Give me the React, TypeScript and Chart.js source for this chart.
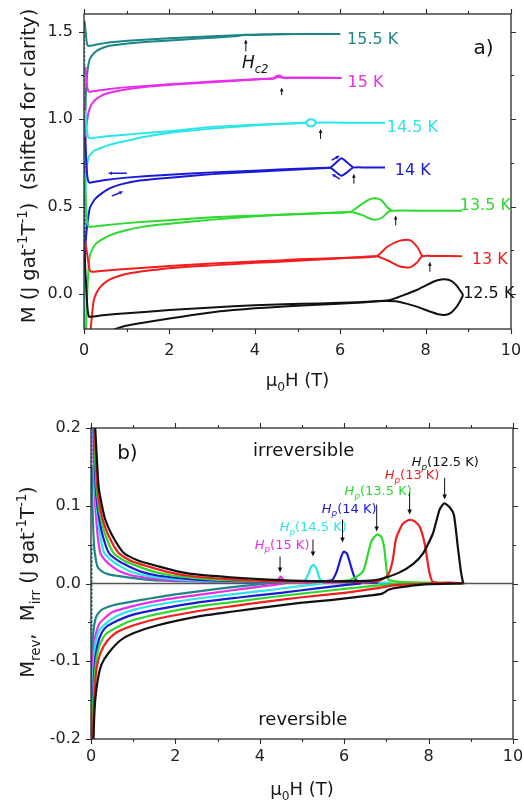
import React, { useEffect, useRef } from "react";
import { Chart, registerables } from "chart.js";
Chart.register(...registerables);

type Pt = [number, number];
type Part = { t: string; s?: "sub" | "sup"; i?: boolean };

const FONT = "DejaVu Sans";

// ---------- axis ticks ----------
const X_MAJOR = [0, 2, 4, 6, 8, 10];
const X_MINOR = [1, 3, 5, 7, 9];
const TOP_Y_MAJOR = [0, 0.5, 1.0, 1.5];
const TOP_Y_MINOR = [0.25, 0.75, 1.25];
const BOT_Y_MAJOR = [-0.2, -0.1, 0, 0.1, 0.2];
const BOT_Y_MINOR = [-0.15, -0.05, 0.05, 0.15];

// ---------- colours ----------
const C125 = "#111111";
const C130 = "#f21d1d";
const C135 = "#2fd82f";
const C140 = "#1a1ad6";
const C145 = "#2ae6e6";
const C150 = "#e82ee8";
const C155 = "#1f8585";

// ---------- panel a) M(H) loops, shifted ----------
const T125_A: Pt[] = [[0.66,-0.21],[0.74,-0.2],[0.9,-0.187],[1.2,-0.172],[1.56,-0.157],[2.0,-0.14],[2.5,-0.122],[3.1,-0.102],[3.5,-0.092],[4.0,-0.082],[4.68,-0.072],[5.1,-0.066],[5.85,-0.057],[6.5,-0.048],[7.0,-0.04],[7.3,-0.042],[7.55,-0.055],[7.79,-0.072],[8.1,-0.1],[8.3,-0.116],[8.45,-0.12],[8.6,-0.106],[8.72,-0.075],[8.8,-0.044],[8.88,-0.006]];
const T125_B: Pt[] = [[8.88,-0.006],[8.8,0.023],[8.72,0.05],[8.6,0.075],[8.45,0.084],[8.3,0.08],[8.18,0.07],[8.0,0.048],[7.79,0.023],[7.5,-0.005],[7.17,-0.034],[6.5,-0.046],[5.5,-0.054],[4.68,-0.058],[4.0,-0.064],[3.0,-0.077],[2.0,-0.092],[1.0,-0.11],[0.5,-0.12],[0.19,-0.129],[0.12,-0.13],[0.09,-0.1],[0.07,-0.04],[0.05,0.05],[0.03,0.14],[0.02,0.21]];
const T130_A: Pt[] = [[0.14,-0.25],[0.16,-0.19],[0.2,-0.09],[0.23,-0.034],[0.3,0.01],[0.39,0.042],[0.55,0.075],[0.78,0.1],[1.1,0.12],[1.56,0.136],[2.2,0.152],[3.1,0.165],[4.0,0.178],[4.68,0.186],[5.5,0.197],[6.2,0.207],[6.85,0.216],[7.1,0.193],[7.4,0.157],[7.63,0.152],[7.8,0.18],[7.92,0.216],[8.2,0.217],[8.85,0.216]];
const T130_B: Pt[] = [[7.92,0.216],[7.8,0.27],[7.63,0.308],[7.4,0.305],[7.1,0.27],[6.85,0.216],[6.0,0.206],[5.0,0.198],[4.68,0.193],[3.5,0.18],[2.5,0.167],[1.5,0.152],[0.8,0.14],[0.4,0.132],[0.19,0.127],[0.15,0.13],[0.12,0.15],[0.09,0.2],[0.06,0.25],[0.03,0.3]];
const T135_A: Pt[] = [[0.04,-0.25],[0.06,-0.12],[0.08,0.02],[0.1,0.12],[0.12,0.19],[0.15,0.23],[0.25,0.28],[0.375,0.305],[0.6,0.335],[0.92,0.36],[1.4,0.385],[1.94,0.4],[3.0,0.425],[4.12,0.445],[5.0,0.456],[5.8,0.464],[6.23,0.468],[6.54,0.449],[6.7,0.43],[6.85,0.425],[7.0,0.44],[7.12,0.468],[7.2,0.476],[8.0,0.476],[8.85,0.476]];
const T135_B: Pt[] = [[7.2,0.478],[7.1,0.496],[6.97,0.535],[6.82,0.547],[6.66,0.538],[6.46,0.506],[6.23,0.468],[5.5,0.462],[4.12,0.449],[3.0,0.438],[2.0,0.422],[1.0,0.405],[0.5,0.393],[0.25,0.386],[0.14,0.383],[0.1,0.39],[0.07,0.43],[0.05,0.5],[0.03,0.6],[0.015,0.68]];
const T140_A: Pt[] = [[0.005,0.75],[0.012,0.3],[0.02,0.2],[0.04,0.3],[0.06,0.36],[0.1,0.44],[0.14,0.493],[0.25,0.54],[0.375,0.568],[0.6,0.603],[0.84,0.625],[1.3,0.648],[1.94,0.663],[3.0,0.685],[4.12,0.7],[5.0,0.712],[5.76,0.721],[5.9,0.697],[6.03,0.676],[6.17,0.697],[6.3,0.722],[6.6,0.723],[7.05,0.723]];
const T140_B: Pt[] = [[6.3,0.723],[6.17,0.75],[6.03,0.776],[5.9,0.75],[5.76,0.722],[5.0,0.716],[4.12,0.706],[3.0,0.695],[2.0,0.682],[1.0,0.665],[0.5,0.652],[0.25,0.642],[0.14,0.636],[0.1,0.645],[0.07,0.69],[0.05,0.78],[0.03,0.9]];
const T145_A: Pt[] = [[0.005,0.95],[0.01,0.2],[0.014,-0.25],[0.02,0.3],[0.04,0.62],[0.06,0.72],[0.1,0.77],[0.14,0.795],[0.25,0.82],[0.375,0.833],[0.6,0.852],[0.92,0.871],[1.4,0.897],[1.94,0.919],[3.0,0.945],[4.12,0.966],[4.8,0.975],[5.18,0.978],[5.25,0.962],[5.31,0.958],[5.38,0.962],[5.44,0.979],[6.0,0.979],[7.05,0.979]];
const T145_B: Pt[] = [[5.44,0.979],[5.38,0.995],[5.31,0.999],[5.25,0.995],[5.18,0.979],[4.12,0.968],[3.0,0.955],[2.0,0.93],[1.2,0.915],[0.6,0.903],[0.3,0.895],[0.14,0.89],[0.1,0.895],[0.07,0.93],[0.05,0.99],[0.03,1.05]];
const T150_A: Pt[] = [[0.005,1.2],[0.012,0.7],[0.02,0.82],[0.04,0.92],[0.06,0.966],[0.1,1.03],[0.15,1.07],[0.22,1.098],[0.35,1.125],[0.53,1.146],[0.9,1.166],[1.47,1.184],[2.2,1.198],[3.0,1.21],[4.12,1.227],[4.45,1.232],[4.5,1.245],[4.6,1.248],[4.65,1.236],[5.0,1.236],[6.03,1.235]];
const T150_B: Pt[] = [[6.03,1.235],[4.65,1.236],[4.55,1.24],[4.45,1.233],[4.12,1.228],[3.0,1.214],[2.0,1.198],[1.2,1.185],[0.6,1.172],[0.3,1.162],[0.14,1.155],[0.1,1.16],[0.07,1.19],[0.05,1.25],[0.03,1.3]];
const T155_A: Pt[] = [[0.005,1.5],[0.01,1.0],[0.015,0.5],[0.025,0.9],[0.04,1.12],[0.06,1.21],[0.09,1.29],[0.14,1.345],[0.25,1.38],[0.375,1.4],[0.6,1.418],[1.08,1.433],[1.6,1.443],[2.2,1.452],[3.0,1.464],[3.6,1.474],[3.75,1.482],[3.9,1.48],[4.5,1.484],[5.2,1.486],[6.0,1.486]];
const T155_B: Pt[] = [[6.0,1.486],[5.0,1.486],[4.12,1.483],[3.0,1.473],[2.0,1.462],[1.2,1.45],[0.68,1.44],[0.35,1.428],[0.2,1.42],[0.1,1.417],[0.07,1.43],[0.05,1.47],[0.03,1.52],[0.015,1.56]];

// ---------- panel b) irreversible / reversible parts ----------
const B125_IRR: Pt[] = [[0.085,0.22],[0.1,0.2],[0.14,0.16],[0.18,0.125],[0.26,0.1],[0.34,0.082],[0.5,0.062],[0.77,0.0395],[1.1,0.03],[1.6,0.022],[2.1,0.015],[2.6,0.011],[3.3,0.008],[4.2,0.005],[5.2,0.003],[6.2,0.003],[6.7,0.004],[6.95,0.007],[7.3,0.014],[7.63,0.025],[7.86,0.038],[8.1,0.064],[8.26,0.095],[8.37,0.103],[8.5,0.098],[8.6,0.088],[8.69,0.048],[8.77,0.014],[8.82,0.0]];
const B130_IRR: Pt[] = [[0.07,0.22],[0.085,0.2],[0.12,0.16],[0.15,0.125],[0.21,0.1],[0.28,0.082],[0.42,0.061],[0.65,0.0395],[0.95,0.029],[1.35,0.022],[1.8,0.015],[2.3,0.01],[3.4,0.005],[4.5,0.003],[6.0,0.002],[6.8,0.003],[6.95,0.007],[7.05,0.012],[7.15,0.03],[7.23,0.058],[7.39,0.077],[7.55,0.082],[7.67,0.08],[7.79,0.073],[7.9,0.053],[7.97,0.03],[8.02,0.014],[8.1,0.002],[8.5,0.001],[8.85,0.0]];
const B135_IRR: Pt[] = [[0.062,0.22],[0.075,0.2],[0.1,0.16],[0.13,0.125],[0.18,0.1],[0.24,0.082],[0.35,0.061],[0.53,0.0395],[0.8,0.029],[1.12,0.022],[1.5,0.015],[1.95,0.01],[2.9,0.005],[4.0,0.003],[5.5,0.002],[6.1,0.004],[6.3,0.009],[6.45,0.016],[6.55,0.035],[6.65,0.055],[6.78,0.063],[6.88,0.06],[6.95,0.045],[7.0,0.02],[7.05,0.005],[7.3,0.002],[8.0,0.001],[8.85,0.0]];
const B140_IRR: Pt[] = [[0.052,0.22],[0.065,0.2],[0.085,0.16],[0.11,0.125],[0.15,0.1],[0.2,0.082],[0.28,0.061],[0.42,0.0395],[0.65,0.029],[0.9,0.022],[1.2,0.015],[1.6,0.01],[2.5,0.005],[3.5,0.003],[5.0,0.002],[5.7,0.004],[5.82,0.015],[5.92,0.033],[5.99,0.041],[6.07,0.038],[6.17,0.02],[6.26,0.006],[6.35,0.002],[6.8,0.001]];
const B145_IRR: Pt[] = [[0.045,0.22],[0.055,0.2],[0.072,0.16],[0.095,0.125],[0.13,0.1],[0.17,0.082],[0.22,0.061],[0.31,0.0395],[0.5,0.029],[0.7,0.022],[0.95,0.015],[1.3,0.01],[2.1,0.005],[3.2,0.003],[4.5,0.002],[5.05,0.003],[5.15,0.012],[5.22,0.022],[5.28,0.024],[5.35,0.018],[5.42,0.006],[5.5,0.002],[6.5,0.001],[7.1,0.001]];
const B150_IRR: Pt[] = [[0.037,0.22],[0.045,0.2],[0.06,0.16],[0.08,0.125],[0.1,0.1],[0.125,0.082],[0.16,0.061],[0.22,0.0395],[0.35,0.029],[0.5,0.022],[0.7,0.015],[1.0,0.01],[1.7,0.005],[2.7,0.003],[3.8,0.002],[4.4,0.002],[4.45,0.006],[4.5,0.009],[4.56,0.004],[4.7,0.001],[6.0,0.001]];
const B155_IRR: Pt[] = [[0.018,0.22],[0.022,0.15],[0.03,0.11],[0.045,0.082],[0.07,0.05],[0.09,0.0395],[0.15,0.022],[0.25,0.016],[0.4,0.012],[0.6,0.01],[1.3,0.005],[2.2,0.003],[3.5,0.002],[5.0,0.001],[6.0,0.001]];

const B125_REV: Pt[] = [[0.05,-0.22],[0.07,-0.18],[0.1,-0.15],[0.16,-0.124],[0.25,-0.104],[0.42,-0.089],[0.7,-0.073],[1.0,-0.064],[1.56,-0.054],[2.58,-0.042],[3.37,-0.036],[4.2,-0.03],[4.95,-0.025],[5.73,-0.021],[6.52,-0.016],[6.9,-0.013],[7.05,-0.008],[7.3,-0.005],[7.9,-0.001],[8.8,0.0]];
const B130_REV: Pt[] = [[0.04,-0.22],[0.06,-0.17],[0.085,-0.14],[0.13,-0.11],[0.22,-0.09],[0.38,-0.074],[0.6,-0.063],[1.05,-0.053],[1.6,-0.045],[2.58,-0.035],[3.37,-0.029],[4.2,-0.023],[4.95,-0.018],[6.0,-0.012],[6.8,-0.006],[7.2,-0.002],[7.6,-0.001],[8.1,0.0]];
const B135_REV: Pt[] = [[0.035,-0.22],[0.05,-0.16],[0.075,-0.13],[0.12,-0.1],[0.2,-0.08],[0.35,-0.065],[0.73,-0.053],[1.0,-0.047],[1.6,-0.039],[2.58,-0.029],[3.5,-0.023],[4.2,-0.018],[5.0,-0.013],[6.0,-0.007],[6.7,-0.003],[7.1,-0.001],[7.6,0.0]];
const B140_REV: Pt[] = [[0.03,-0.22],[0.045,-0.16],[0.07,-0.12],[0.11,-0.092],[0.2,-0.07],[0.32,-0.058],[0.5,-0.051],[1.0,-0.04],[1.6,-0.033],[2.58,-0.024],[3.5,-0.018],[4.5,-0.012],[5.4,-0.006],[6.0,-0.002],[6.4,0.0]];
const B145_REV: Pt[] = [[0.025,-0.21],[0.04,-0.15],[0.06,-0.11],[0.1,-0.08],[0.18,-0.062],[0.34,-0.052],[0.6,-0.042],[1.0,-0.034],[1.6,-0.027],[2.58,-0.019],[3.5,-0.013],[4.3,-0.008],[5.0,-0.003],[5.5,0.0]];
const B150_REV: Pt[] = [[0.022,-0.2],[0.035,-0.14],[0.05,-0.1],[0.08,-0.075],[0.15,-0.058],[0.22,-0.05],[0.5,-0.037],[1.0,-0.029],[1.6,-0.022],[2.5,-0.015],[3.3,-0.009],[4.0,-0.004],[4.6,0.0]];
const B155_REV: Pt[] = [[0.015,0.05],[0.016,-0.22],[0.02,-0.15],[0.03,-0.09],[0.06,-0.06],[0.13,-0.042],[0.25,-0.034],[0.53,-0.028],[1.0,-0.023],[1.32,-0.02],[2.0,-0.014],[3.0,-0.007],[3.8,-0.002],[4.2,0.0]];

// ---------- annotations (data coordinates) ----------
const TOP_T_LABELS = [
  { text: "15.5 K", x: 6.16, y: 1.462, color: C155 },
  { text: "15 K", x: 6.17, y: 1.216, color: C150 },
  { text: "14.5 K", x: 7.09, y: 0.96, color: C145 },
  { text: "14 K", x: 7.28, y: 0.714, color: C140 },
  { text: "13.5 K", x: 8.8, y: 0.515, color: C135 },
  { text: "13 K", x: 9.08, y: 0.207, color: C130 },
  { text: "12.5 K", x: 8.88, y: 0.013, color: C125 },
];
const TOP_HC2_ARROWS = [
  { x: 3.79, y0: 1.386, y1: 1.455 },
  { x: 4.63, y0: 1.136, y1: 1.18 },
  { x: 5.54, y0: 0.886, y1: 0.943 },
  { x: 6.32, y0: 0.63, y1: 0.6875 },
  { x: 7.3, y0: 0.392, y1: 0.449 },
  { x: 8.1, y0: 0.127, y1: 0.184 },
];
const TOP_SWEEP_ARROWS = [
  { x0: 1.0, y0: 0.69, x1: 0.56, y1: 0.69 },
  { x0: 0.65, y0: 0.559, x1: 0.92, y1: 0.587 },
  { x0: 5.8, y0: 0.765, x1: 5.99, y1: 0.79 },
  { x0: 5.99, y0: 0.657, x1: 5.8, y1: 0.686 },
];
const HP_LABELS = [
  { text: "(12.5 K)", x: 7.6, y: 0.1505, color: C125 },
  { text: "(13 K)", x: 6.96, y: 0.1338, color: C130 },
  { text: "(13.5 K)", x: 6.01, y: 0.1132, color: C135 },
  { text: "(14 K)", x: 5.47, y: 0.0913, color: C140 },
  { text: "(14.5 K)", x: 4.47, y: 0.0669, color: C145 },
  { text: "(15 K)", x: 3.88, y: 0.045, color: C150 },
];
const HP_ARROWS = [
  { x: 8.38, y0: 0.136, y1: 0.108 },
  { x: 7.55, y0: 0.117, y1: 0.0887 },
  { x: 6.77, y0: 0.1016, y1: 0.0669 },
  { x: 5.96, y0: 0.0823, y1: 0.0527 },
  { x: 5.26, y0: 0.0566, y1: 0.0347 },
  { x: 4.48, y0: 0.0347, y1: 0.0141 },
];

// ---------- drawing helpers ----------
function partFont(p: Part, size: number) {
  const s = p.s ? size * 0.68 : size;
  return `${p.i ? "italic " : ""}${s}px "${FONT}"`;
}
function drawRich(ctx: CanvasRenderingContext2D, parts: Part[], x: number, y: number, size: number, color: string, align: "left" | "center") {
  let total = 0;
  for (const p of parts) { ctx.font = partFont(p, size); total += ctx.measureText(p.t).width; }
  let cx = align === "center" ? x - total / 2 : x;
  ctx.fillStyle = color;
  ctx.textAlign = "left";
  ctx.textBaseline = "alphabetic";
  for (const p of parts) {
    ctx.font = partFont(p, size);
    const dy = p.s === "sub" ? size * 0.3 : p.s === "sup" ? -size * 0.42 : 0;
    ctx.fillText(p.t, cx, y + dy);
    cx += ctx.measureText(p.t).width;
  }
}
function drawRotated(ctx: CanvasRenderingContext2D, parts: Part[], x: number, y: number, size: number) {
  ctx.save();
  ctx.translate(x, y);
  ctx.rotate(-Math.PI / 2);
  drawRich(ctx, parts, 0, 0, size, "#1a1a1a", "center");
  ctx.restore();
}
function arrow(ctx: CanvasRenderingContext2D, x0: number, y0: number, x1: number, y1: number, color: string, head: number, lw: number) {
  const ang = Math.atan2(y1 - y0, x1 - x0);
  ctx.strokeStyle = color; ctx.fillStyle = color; ctx.lineWidth = lw;
  ctx.beginPath(); ctx.moveTo(x0, y0);
  ctx.lineTo(x1 - Math.cos(ang) * head * 0.8, y1 - Math.sin(ang) * head * 0.8); ctx.stroke();
  ctx.beginPath();
  ctx.moveTo(x1, y1);
  ctx.lineTo(x1 - head * Math.cos(ang) + head * 0.45 * Math.sin(ang), y1 - head * Math.sin(ang) - head * 0.45 * Math.cos(ang));
  ctx.lineTo(x1 - head * Math.cos(ang) - head * 0.45 * Math.sin(ang), y1 - head * Math.sin(ang) + head * 0.45 * Math.cos(ang));
  ctx.closePath(); ctx.fill();
}
function drawFrame(chart: any, yMajor: number[], yMinor: number[]) {
  const { ctx, chartArea: a } = chart;
  const xs = chart.scales.x, ys = chart.scales.y;
  ctx.save();
  ctx.strokeStyle = "#2a2a2a";
  ctx.lineWidth = 1.3;
  ctx.strokeRect(a.left, a.top, a.right - a.left, a.bottom - a.top);
  ctx.lineWidth = 1.1;
  const xt = (vals: number[], len: number) => {
    for (const v of vals) {
      const p = Math.round(xs.getPixelForValue(v)) + 0.5;
      ctx.beginPath();
      ctx.moveTo(p, a.bottom); ctx.lineTo(p, a.bottom + len);
      ctx.moveTo(p, a.top); ctx.lineTo(p, a.top - len);
      ctx.stroke();
    }
  };
  const yt = (vals: number[], len: number) => {
    for (const v of vals) {
      const p = Math.round(ys.getPixelForValue(v)) + 0.5;
      ctx.beginPath();
      ctx.moveTo(a.left, p); ctx.lineTo(a.left - len, p);
      ctx.moveTo(a.right, p); ctx.lineTo(a.right + len, p);
      ctx.stroke();
    }
  };
  xt(X_MAJOR, 5); xt(X_MINOR, 3); yt(yMajor, 5); yt(yMinor, 3);
  ctx.restore();
}

function ds(pts: Pt[], color: string, width: number) {
  return {
    data: pts.map(([x, y]) => ({ x, y })),
    borderColor: color,
    backgroundColor: color,
    borderWidth: width,
    pointRadius: 0,
    showLine: true,
    fill: false,
    tension: 0.2,
    clip: 0,
    segment: {
      borderDash: (c: any) => (c.p0.parsed.x < 0.03 && c.p1.parsed.x < 0.03 ? [2, 2] : undefined),
    },
  };
}

function baseOptions(yMin: number, yMax: number, yTicks: number[], yW: number, xH: number, padTop: number, padRight: number, xPad: number, yPad: number) {
  return {
    responsive: false,
    animation: false as const,
    devicePixelRatio: 1,
    layout: { padding: { left: 0, right: padRight, top: padTop, bottom: 0 } },
    plugins: { legend: { display: false }, tooltip: { enabled: false } },
    scales: {
      x: {
        type: "linear" as const, min: 0, max: 10, position: "bottom" as const,
        afterBuildTicks: (s: any) => { s.ticks = X_MAJOR.map((v) => ({ value: v })); },
        afterFit: (s: any) => { s.height = xH; s.paddingLeft = 0; s.paddingRight = 0; s.paddingTop = 0; s.paddingBottom = 0; },
        grid: { display: false, drawTicks: false },
        border: { display: false },
        ticks: { font: { family: FONT, size: 16 }, color: "#222", padding: xPad, maxRotation: 0, autoSkip: false, callback: (v: any) => String(v) },
      },
      y: {
        type: "linear" as const, min: yMin, max: yMax,
        afterBuildTicks: (s: any) => { s.ticks = yTicks.map((v) => ({ value: v })); },
        afterFit: (s: any) => { s.width = yW; s.paddingLeft = 0; s.paddingRight = 0; s.paddingTop = 0; s.paddingBottom = 0; },
        grid: { display: false, drawTicks: false },
        border: { display: false },
        ticks: { font: { family: FONT, size: 16 }, color: "#222", padding: yPad, autoSkip: false, callback: (v: any) => Number(v).toFixed(1) },
      },
    },
  };
}

export default function App() {
  const topRef = useRef<HTMLCanvasElement>(null);
  const botRef = useRef<HTMLCanvasElement>(null);

  useEffect(() => {
    const topDecor = {
      id: "topDecor",
      afterDatasetsDraw(chart: any) {
        drawFrame(chart, TOP_Y_MAJOR, TOP_Y_MINOR);
        const { ctx, chartArea: a } = chart;
        const xs = chart.scales.x, ys = chart.scales.y;
        ctx.save();
        for (const l of TOP_T_LABELS) {
          drawRich(ctx, [{ t: l.text }], xs.getPixelForValue(l.x), ys.getPixelForValue(l.y) + 5.8, 16, l.color, "left");
        }
        for (const r of TOP_HC2_ARROWS) {
          const px = xs.getPixelForValue(r.x);
          arrow(ctx, px, ys.getPixelForValue(r.y0), px, ys.getPixelForValue(r.y1), "#111", 4, 1);
        }
        for (const r of TOP_SWEEP_ARROWS) {
          arrow(ctx, xs.getPixelForValue(r.x0), ys.getPixelForValue(r.y0), xs.getPixelForValue(r.x1), ys.getPixelForValue(r.y1), C140, 4, 1.5);
        }
        drawRich(ctx, [{ t: "H", i: true }, { t: "c2", s: "sub", i: true }], xs.getPixelForValue(3.7), ys.getPixelForValue(1.29), 17, "#111", "left");
        drawRich(ctx, [{ t: "a)" }], xs.getPixelForValue(9.12), ys.getPixelForValue(1.41) + 7, 20, "#111", "left");
        drawRich(ctx, [{ t: "μ" }, { t: "0", s: "sub" }, { t: "H (T)" }], (a.left + a.right) / 2, 386, 18, "#1a1a1a", "center");
        drawRotated(ctx, [{ t: "M (J gat" }, { t: "-1", s: "sup" }, { t: "T" }, { t: "-1", s: "sup" }, { t: ")  (shifted for clarity)" }], 35, 166, 19.5);
        ctx.restore();
      },
    };
    const botDecor = {
      id: "botDecor",
      beforeDatasetsDraw(chart: any) {
        const { ctx, chartArea: a } = chart;
        const py = chart.scales.y.getPixelForValue(0);
        ctx.save();
        ctx.strokeStyle = "#555";
        ctx.lineWidth = 1.5;
        ctx.beginPath(); ctx.moveTo(a.left, py); ctx.lineTo(a.right, py); ctx.stroke();
        ctx.restore();
      },
      afterDatasetsDraw(chart: any) {
        drawFrame(chart, BOT_Y_MAJOR, BOT_Y_MINOR);
        const { ctx, chartArea: a } = chart;
        const xs = chart.scales.x, ys = chart.scales.y;
        ctx.save();
        for (const l of HP_LABELS) {
          drawRich(ctx, [{ t: "H", i: true }, { t: "p", s: "sub", i: true }, { t: l.text }], xs.getPixelForValue(l.x), ys.getPixelForValue(l.y), 13, l.color, "left");
        }
        for (const r of HP_ARROWS) {
          const px = xs.getPixelForValue(r.x);
          arrow(ctx, px, ys.getPixelForValue(r.y0), px, ys.getPixelForValue(r.y1), "#111", 5, 1);
        }
        drawRich(ctx, [{ t: "b)" }], xs.getPixelForValue(0.62), ys.getPixelForValue(0.169) + 7, 20, "#111", "left");
        drawRich(ctx, [{ t: "irreversible" }], xs.getPixelForValue(5.04), ys.getPixelForValue(0.1646), 18, "#111", "center");
        drawRich(ctx, [{ t: "reversible" }], xs.getPixelForValue(5.02), ys.getPixelForValue(-0.1826), 18, "#111", "center");
        drawRich(ctx, [{ t: "μ" }, { t: "0", s: "sub" }, { t: "H (T)" }], (a.left + a.right) / 2, 395, 18, "#1a1a1a", "center");
        drawRotated(ctx, [{ t: "M" }, { t: "rev", s: "sub" }, { t: ",  M" }, { t: "irr", s: "sub" }, { t: " (J gat" }, { t: "-1", s: "sup" }, { t: "T" }, { t: "-1", s: "sup" }, { t: ")" }], 34, 182, 19.5);
        ctx.restore();
      },
    };

    const top = new Chart(topRef.current!, {
      type: "scatter",
      data: {
        datasets: [
          ds(T125_A, C125, 2), ds(T125_B, C125, 2),
          ds(T130_A, C130, 2), ds(T130_B, C130, 2),
          ds(T135_A, C135, 2), ds(T135_B, C135, 2),
          ds(T140_A, C140, 2), ds(T140_B, C140, 2),
          ds(T145_A, C145, 2), ds(T145_B, C145, 2),
          ds(T150_A, C150, 2), ds(T150_B, C150, 2),
          ds(T155_A, C155, 2), ds(T155_B, C155, 2),
        ] as any,
      },
      options: baseOptions(-0.2, 1.6, TOP_Y_MAJOR, 84, 71, 14, 13, 12, 11) as any,
      plugins: [topDecor],
    });
    const bot = new Chart(botRef.current!, {
      type: "scatter",
      data: {
        datasets: [
          ds(B125_IRR, C125, 2.2), ds(B125_REV, C125, 2.2),
          ds(B130_IRR, C130, 2.2), ds(B130_REV, C130, 2.2),
          ds(B135_IRR, C135, 2.2), ds(B135_REV, C135, 2.2),
          ds(B140_IRR, C140, 2.2), ds(B140_REV, C140, 2.2),
          ds(B145_IRR, C145, 2.2), ds(B145_REV, C145, 2.2),
          ds(B150_IRR, C150, 2.2), ds(B150_REV, C150, 2.2),
          ds(B155_IRR, C155, 2.2), ds(B155_REV, C155, 2.2),
        ] as any,
      },
      options: baseOptions(-0.2, 0.2, BOT_Y_MAJOR, 91, 65, 28, 11, 8, 10) as any,
      plugins: [botDecor],
    });
    return () => { top.destroy(); bot.destroy(); };
  }, []);

  return (
    <div style={{ position: "absolute", left: 0, top: 0, width: 524, height: 804, background: "#fff" }}>
      <canvas ref={topRef} width={524} height={400} style={{ position: "absolute", left: 0, top: 0, width: 524, height: 400 }} />
      <canvas ref={botRef} width={524} height={404} style={{ position: "absolute", left: 0, top: 400, width: 524, height: 404 }} />
    </div>
  );
}
